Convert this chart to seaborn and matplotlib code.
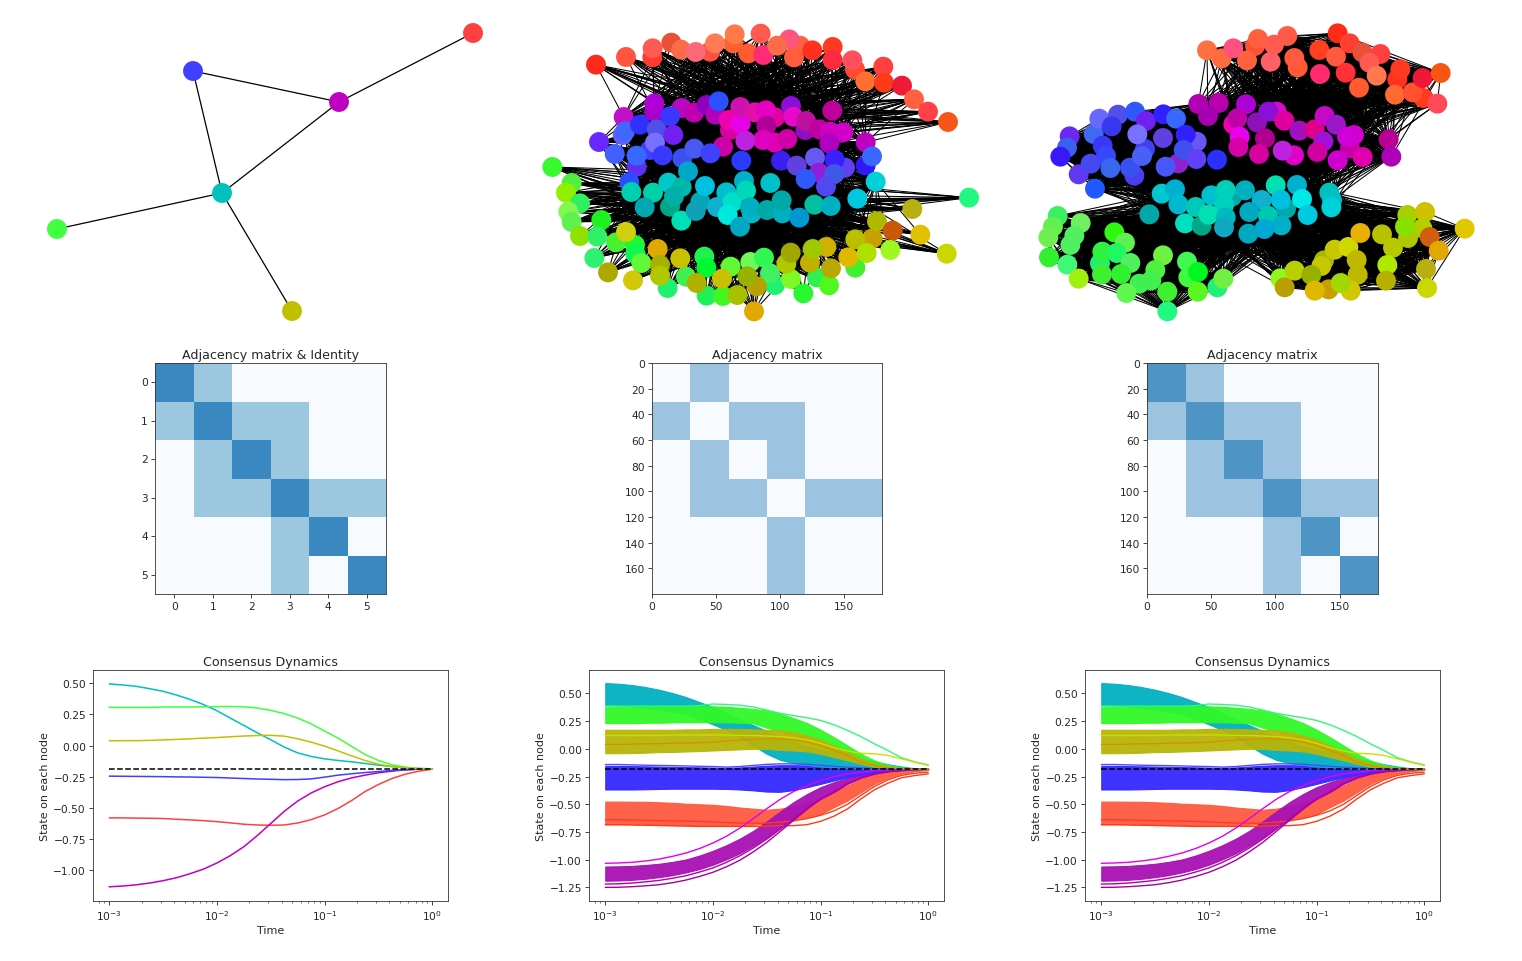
import numpy as np
import matplotlib
matplotlib.use("Agg")
import matplotlib.pyplot as plt
from matplotlib.collections import LineCollection
from matplotlib.colors import ListedColormap, LinearSegmentedColormap
import seaborn as sns

sns.set_style("ticks")
plt.rcParams['font.family'] = 'DejaVu Sans'

# Group links of the small graph: 0 red, 1 magenta, 2 blue, 3 cyan, 4 green, 5 olive
links = [(0, 1), (1, 2), (1, 3), (2, 3), (3, 4), (3, 5)]

# Small network, node positions
small_nodes = [(473, 33, "#ff4040"), (339, 102, "#c000c0"), (193, 71, "#4040ff"),
               (222, 193, "#00c0c0"), (57, 229, "#40ff40"), (292, 311, "#c0c000")]

# Middle network, one list per group: (x, y, colour)
mid_red = [(198,164,"#ff2a1e"),(288,141,"#ff5540"),(367,142,"#ff3a30"),(368,115,"#ff5a52"),(424,98,"#e85038"),
           (453,119,"#ff6a48"),(540,125,"#ff5040"),(497,126,"#ff6878"),(610,100,"#ff6030"),(555,100,"#ff7a55"),
           (614,73,"#ff7a48"),(655,130,"#ff5a30"),(692,71,"#ff5a50"),(700,135,"#ff2a78"),(810,107,"#ff6040"),
           (778,88,"#ff5580"),(742,107,"#ff6a48"),(792,142,"#ff5c40"),(847,121,"#ff3020"),(908,111,"#ff3a20"),
           (908,150,"#ff2a40"),(975,178,"#ff4a30"),(967,151,"#ff5060"),(1006,214,"#ff7030"),(1060,170,"#ff4040"),
           (1062,218,"#ff3a18"),(1116,227,"#ee1a38"),(1152,268,"#ff6040"),(1194,305,"#ff4048"),(1254,336,"#f85518")]
mid_magenta = [(281,321,"#c010c8"),(373,305,"#a800c8"),(373,280,"#b000d8"),(455,294,"#b808c0"),(492,308,"#c000b0"),
               (530,285,"#9000c0"),(556,314,"#b000b8"),(600,360,"#d800a0"),(596,330,"#f000b0"),(632,341,"#e800e8"),
               (631,291,"#d010b0"),(675,307,"#e010a8"),(735,322,"#e000a0"),(708,301,"#e800c0"),(709,347,"#b0009a"),
               (783,288,"#8a10d8"),(790,320,"#e808c8"),(826,360,"#9010c0"),(828,333,"#c010a0"),(868,358,"#c000a0"),
               (900,365,"#d000c0"),(940,367,"#d000c8"),(907,302,"#c0009a"),(898,400,"#b000c0"),(735,398,"#e000b0"),
               (772,387,"#d000a8"),(699,390,"#e000c0"),(646,392,"#c020e0"),(579,410,"#d000a8"),(1007,397,"#c000c0")]
mid_blue = [(207,396,"#6a28ff"),(278,375,"#6060ff"),(254,432,"#4060ff"),(285,364,"#4068ff"),(330,344,"#3030ff"),
            (380,358,"#5050e8"),(420,319,"#3838ff"),(430,375,"#7020f0"),(566,274,"#2a50ff"),(360,420,"#4040ff"),
            (375,398,"#7870ff"),(320,470,"#6030f0"),(320,437,"#3868ff"),(398,436,"#3838ff"),(457,445,"#3a50f0"),
            (493,416,"#4858f0"),(541,430,"#4040ff"),(634,452,"#2a3aff"),(753,452,"#3a20f0"),(800,467,"#6040e0"),
            (855,443,"#6858f0"),(945,473,"#6040f0"),(914,449,"#3a20ff"),(1007,466,"#3018f8"),(1026,439,"#3868ff"),
            (867,488,"#9020d8"),(913,492,"#4058e8"),(827,507,"#3058ff"),(888,530,"#5048f0"),(298,517,"#2850ff")]
mid_cyan = [(304,546,"#00d0b0"),(369,548,"#00d0a8"),(344,592,"#00a8b0"),(415,518,"#00c8c8"),(420,590,"#00a888"),
            (455,531,"#00b8a8"),(474,484,"#00a8c8"),(432,559,"#00b0a8"),(454,632,"#00e0b8"),(511,575,"#00a8b8"),
            (497,603,"#10a0b8"),(525,528,"#00c0e0"),(561,591,"#10b0d0"),(589,547,"#00c0d0"),(608,576,"#00e0c8"),
            (593,615,"#00e8e0"),(642,513,"#00b0c8"),(648,542,"#00d8b8"),(665,610,"#00b8c8"),(660,592,"#00b0c0"),
            (630,650,"#00a8c0"),(711,600,"#00a8a8"),(721,519,"#00c0c8"),(757,610,"#00b0c0"),(755,571,"#00a8a8"),
            (808,623,"#0098d0"),(853,584,"#00c0a0"),(902,588,"#00b0c0"),(982,566,"#00c8e0"),(1037,515,"#00d0d8")]
mid_green = [(67,471,"#38f830"),(125,519,"#50f040"),(108,548,"#90f000"),(150,580,"#30f060"),(115,605,"#80f850"),
             (125,636,"#60f050"),(150,678,"#90e000"),(214,630,"#20f020"),(202,680,"#30f068"),(258,697,"#48f030"),
             (315,705,"#20f830"),(316,731,"#10f850"),(193,744,"#30f070"),(334,759,"#60f838"),(413,834,"#20f070"),
             (468,800,"#40f050"),(523,740,"#20f050"),(530,857,"#20f058"),(529,773,"#00f830"),(579,858,"#40f820"),
             (602,770,"#60f830"),(661,756,"#70f858"),(702,743,"#30f850"),(735,825,"#20f070"),(720,790,"#40f060"),
             (783,807,"#80f828"),(820,850,"#28f830"),(861,802,"#30f050"),(897,826,"#50f820"),(976,773,"#40f030"),
             (1317,563,"#20f880")]
mid_olive = [(234,787,"#b0a800"),(309,811,"#d0c808"),(288,666,"#d0d010"),(383,717,"#e0a800"),(390,765,"#a8b000"),
             (390,797,"#b0c800"),(451,745,"#c8c000"),(500,819,"#b0b000"),(576,806,"#c8c000"),(622,855,"#a8c000"),
             (680,829,"#b8a000"),(652,799,"#98b000"),(672,904,"#e0a800"),(769,761,"#b0c800"),(782,728,"#a0a800"),
             (840,758,"#c0b000"),(889,711,"#d0b000"),(848,717,"#a0c800"),(903,775,"#b8a800"),(955,742,"#e0b800"),
             (1028,685,"#c8a000"),(976,688,"#b8c000"),(1010,729,"#b0e000"),(1041,634,"#b0b800"),(1088,662,"#c85808"),
             (1081,720,"#a0f820"),(1147,597,"#b8b010"),(1171,674,"#e0c000"),(1250,731,"#c8d800")]

# Right network, same layout of the lists
right_red = [(561,121,"#ff7040"),(705,108,"#ff5030"),(605,145,"#ff6a40"),(640,115,"#ff5080"),(714,87,"#ff6040"),
             (681,151,"#ff6040"),(752,155,"#ff6068"),(762,104,"#ff5a50"),(802,78,"#ff5a48"),(833,172,"#ff5a30"),
             (823,144,"#ff5a40"),(898,120,"#ff4020"),(948,140,"#ff5a40"),(953,70,"#ff2a18"),(989,100,"#ff4030"),
             (1027,127,"#e85038"),(1081,132,"#ff4040"),(1048,158,"#ff5a50"),(1070,197,"#ff7850"),(900,192,"#ff2a70"),
             (977,188,"#ff3038"),(1017,233,"#ff5a30"),(1132,208,"#ff3020"),(1141,178,"#ff3a20"),(1125,254,"#ff6a30"),
             (1210,264,"#ff3a20"),(1178,247,"#ff5030"),(1208,204,"#f01838"),(1262,189,"#f85510"),(1252,281,"#ff4858")]
right_magenta = [(535,282,"#b000b0"),(596,279,"#b800b0"),(564,318,"#a800b0"),(678,283,"#b000d8"),(640,343,"#f000b0"),
                 (652,325,"#c000a8"),(711,337,"#9010b8"),(770,305,"#d808c8"),(745,305,"#8a10d8"),(793,332,"#e000a0"),
                 (659,380,"#e800f0"),(735,385,"#b00090"),(655,411,"#d800a8"),(717,432,"#d800a0"),(822,436,"#e000c8"),
                 (788,422,"#c020e0"),(838,362,"#a010c0"),(884,358,"#e00088"),(914,318,"#c808c8"),(948,344,"#9818c8"),
                 (990,415,"#c800a8"),(1002,375,"#d000d0"),(981,380,"#d000d8"),(910,394,"#a010d8"),(892,426,"#d000a0"),
                 (1028,441,"#e000b0"),(953,451,"#d000d0"),(1106,388,"#b80098"),(1114,440,"#b000b8"),(475,460,"#9020d0")]
right_blue = [(149,379,"#6a28f0"),(141,413,"#3a60f0"),(121,440,"#3818f8"),(176,493,"#6038f0"),(212,461,"#4848f0"),
              (221,372,"#4068f0"),(238,326,"#6868ff"),(294,314,"#5050e8"),(345,305,"#3058ff"),(275,349,"#3838f0"),
              (248,407,"#3838f8"),(258,438,"#3848f8"),(271,474,"#3868f0"),(343,497,"#4840f0"),(330,473,"#3850f0"),
              (375,417,"#4040f0"),(366,438,"#4860f8"),(378,333,"#7020f0"),(352,373,"#7870ff"),(430,313,"#3020ff"),
              (468,326,"#3868ff"),(429,384,"#6040e0"),(530,395,"#6858f0"),(497,374,"#3020ff"),(491,420,"#4050f0"),
              (529,447,"#6040f8"),(437,470,"#4858f8"),(591,449,"#2a30ff"),(225,536,"#2058ff")]
right_cyan = [(425,551,"#00c8d0"),(465,538,"#00b0d0"),(475,583,"#00b8d0"),(527,591,"#00c8b8"),(495,640,"#00e0c0"),
              (388,613,"#00a8a8"),(574,556,"#00c0d0"),(636,560,"#00a8a8"),(617,540,"#00d0b8"),(612,585,"#00d0c0"),
              (545,647,"#00a888"),(566,614,"#00e0b0"),(617,622,"#00b8c0"),(612,652,"#10a8c0"),(675,541,"#00b0c0"),
              (767,526,"#00e0b0"),(831,525,"#00b0d0"),(725,570,"#10b0d0"),(688,606,"#00a8c0"),(798,596,"#00a8a8"),
              (744,617,"#00c8b0"),(782,569,"#00c0e0"),(846,567,"#00e8e8"),(863,615,"#00c8e0"),(784,646,"#00b0c8"),
              (733,657,"#00a8d8"),(685,671,"#00a8c0"),(928,548,"#00c0c0"),(936,570,"#00c0c8"),(934,592,"#00d0d8")]
right_green = [(113,618,"#38f060"),(182,639,"#70f060"),(99,650,"#60f050"),(85,682,"#70f050"),(163,677,"#50f060"),
               (151,705,"#50f060"),(87,742,"#30f030"),(142,764,"#40f878"),(176,806,"#a0f010"),(283,667,"#30f810"),
               (315,698,"#60f050"),(240,760,"#20f070"),(247,725,"#30f040"),(290,729,"#20f860"),(331,759,"#50f060"),
               (246,793,"#40f030"),(303,792,"#30f030"),(429,736,"#70f040"),(358,821,"#40f050"),(406,780,"#50f040"),
               (394,811,"#40f050"),(319,849,"#60f850"),(442,845,"#40f030"),(501,755,"#40f850"),(505,802,"#40f840"),
               (534,786,"#00f820"),(533,845,"#58f820"),(592,832,"#20f078"),(610,806,"#70f040"),(442,904,"#20f880")]
right_olive = [(781,805,"#90f820"),(794,832,"#b8a000"),(824,782,"#b8d000"),(912,751,"#a8b800"),(904,768,"#c8c800"),
               (874,795,"#98b000"),(944,719,"#c8c800"),(985,711,"#d0d800"),(1010,750,"#c0b800"),(1021,669,"#e8b000"),
               (1086,673,"#b8c000"),(1119,713,"#b8c800"),(1013,794,"#c0b800"),(926,838,"#c8a000"),(992,842,"#d0c800"),
               (962,819,"#a0d800"),(884,842,"#e0b800"),(1102,765,"#b0e800"),(1098,812,"#b8b000"),(1162,615,"#a8d000"),
               (1215,606,"#d0c000"),(1207,655,"#b0d000"),(1164,684,"#b0c800"),(1155,650,"#88e000"),(1229,681,"#d06010"),
               (1256,722,"#e0a800"),(1334,656,"#e0c800"),(1218,777,"#b8b010"),(1221,834,"#c8d800")]

mid_groups = [mid_red, mid_magenta, mid_blue, mid_cyan, mid_green, mid_olive]
right_groups = [right_red, right_magenta, right_blue, right_cyan, right_green, right_olive]

# Block fill of the matrices: share of cells that are set, estimated per block
# (the single dots of the picture can not be read, so a block gets one tint)
block_between = 0.42
block_within = 0.78

# Time samples for the consensus curves, eight per decade
times = [.001, .00133, .00178, .00237, .00316, .00422, .00562, .0075, .01, .0133, .0178, .0237, .0316,
         .0422, .0562, .075, .1, .133, .178, .237, .316, .422, .562, .75, 1.0]
consensus = -0.186

# Small graph, one curve per node
small_red = [-.58,-.58,-.582,-.583,-.585,-.591,-.596,-.602,-.61,-.62,-.631,-.637,-.639,-.637,-.621,-.594,-.556,-.505,-.441,-.369,-.312,-.264,-.229,-.205,-.189]
small_magenta = [-1.133,-1.127,-1.117,-1.103,-1.084,-1.06,-1.028,-.991,-.942,-.883,-.811,-.722,-.625,-.527,-.445,-.38,-.33,-.29,-.259,-.237,-.218,-.205,-.194,-.189,-.186]
small_blue = [-.245,-.246,-.247,-.248,-.249,-.251,-.252,-.254,-.256,-.26,-.264,-.268,-.27,-.273,-.272,-.267,-.253,-.237,-.226,-.216,-.208,-.199,-.194,-.189,-.186]
small_cyan = [.495,.487,.476,.457,.436,.406,.371,.33,.28,.221,.162,.103,.047,-.012,-.058,-.087,-.106,-.119,-.13,-.143,-.157,-.168,-.178,-.184,-.186]
small_green = [.307,.307,.307,.307,.31,.31,.31,.312,.313,.314,.312,.302,.283,.257,.221,.175,.117,.061,-.006,-.071,-.119,-.154,-.172,-.184,-.186]
small_olive = [.039,.04,.04,.042,.046,.05,.055,.06,.065,.071,.077,.081,.083,.076,.055,.028,-.004,-.042,-.082,-.119,-.149,-.168,-.178,-.184,-.186]
small_curves = [small_red, small_magenta, small_blue, small_cyan, small_green, small_olive]
small_colors = ["#ff4040", "#c000c0", "#4040ff", "#00c0c0", "#40ff40", "#c0c000"]

# Large graphs, bundle edges per group
red_top = [-.476,-.476,-.477,-.478,-.482,-.487,-.495,-.5,-.505,-.515,-.53,-.54,-.55,-.54,-.52,-.49,-.452,-.39,-.331,-.271,-.232,-.208,-.193,-.187,-.184]
red_low = [-.68,-.68,-.68,-.682,-.685,-.688,-.69,-.69,-.69,-.69,-.69,-.685,-.675,-.655,-.64,-.617,-.587,-.527,-.467,-.392,-.316,-.262,-.226,-.202,-.19]
magenta_top = [-1.062,-1.06,-1.056,-1.048,-1.037,-1.02,-.998,-.963,-.92,-.87,-.81,-.74,-.655,-.565,-.48,-.407,-.346,-.301,-.262,-.235,-.214,-.199,-.19,-.187,-.184]
magenta_low = [-1.19,-1.188,-1.182,-1.172,-1.158,-1.14,-1.115,-1.085,-1.046,-.998,-.942,-.875,-.8,-.71,-.62,-.53,-.452,-.39,-.316,-.262,-.226,-.205,-.193,-.187,-.184]
blue_top = [-.155,-.155,-.156,-.158,-.16,-.162,-.165,-.167,-.17,-.172,-.168,-.16,-.152,-.148,-.148,-.15,-.155,-.16,-.168,-.173,-.178,-.181,-.184,-.184,-.184]
blue_low = [-.367,-.367,-.367,-.365,-.362,-.36,-.36,-.36,-.36,-.362,-.367,-.375,-.386,-.388,-.372,-.346,-.316,-.286,-.256,-.232,-.214,-.202,-.193,-.187,-.184]
cyan_top = [.593,.587,.575,.557,.533,.503,.467,.422,.377,.322,.268,.214,.16,.105,.06,.021,-.01,-.036,-.06,-.09,-.115,-.139,-.16,-.175,-.184]
cyan_low = [.392,.392,.383,.37,.352,.334,.31,.271,.22,.172,.105,.03,-.045,-.1,-.13,-.145,-.16,-.166,-.172,-.178,-.181,-.184,-.184,-.184,-.184]
green_top = [.376,.376,.376,.378,.38,.38,.382,.383,.383,.38,.37,.36,.346,.316,.277,.232,.172,.105,.03,-.045,-.105,-.145,-.169,-.181,-.184]
green_low = [.232,.232,.232,.235,.235,.238,.24,.24,.24,.24,.235,.23,.19,.16,.12,.075,.03,-.03,-.09,-.13,-.166,-.175,-.184,-.184,-.184]
olive_top = [.172,.172,.172,.172,.172,.172,.175,.175,.18,.18,.18,.175,.172,.166,.15,.12,.08,.03,-.03,-.09,-.136,-.16,-.175,-.18,-.184]
olive_low = [-.04,-.04,-.038,-.035,-.03,-.028,-.024,-.02,-.015,-.01,-.005,0,0,-.01,-.015,-.024,-.045,-.075,-.105,-.136,-.157,-.172,-.181,-.184,-.184]
band_tops = [red_top, magenta_top, blue_top, cyan_top, green_top, olive_top]
band_lows = [red_low, magenta_low, blue_low, cyan_low, green_low, olive_low]
band_colors = ["#ff5a40", "#a810b4", "#3428ff", "#00b0c0", "#30f828", "#b8b408"]

# Lines that stand clear of their bundle, or show inside it
stray_red = [-.685,-.685,-.687,-.69,-.692,-.695,-.697,-.7,-.7,-.7,-.7,-.7,-.698,-.693,-.693,-.684,-.654,-.608,-.542,-.452,-.37,-.31,-.262,-.241,-.226]
stray_red_b = [-.64,-.64,-.642,-.645,-.648,-.65,-.652,-.655,-.66,-.665,-.67,-.67,-.67,-.66,-.65,-.63,-.6,-.56,-.5,-.42,-.34,-.28,-.24,-.22,-.21]
stray_magenta = [-1.033,-1.03,-1.024,-1.012,-.995,-.97,-.94,-.9,-.85,-.79,-.715,-.63,-.54,-.455,-.385,-.331,-.286,-.25,-.226,-.211,-.196,-.19,-.187,-.184,-.184]
low_magenta = [-1.25,-1.249,-1.244,-1.236,-1.226,-1.208,-1.184,-1.152,-1.114,-1.065,-1.005,-.93,-.845,-.745,-.645,-.545,-.452,-.39,-.316,-.262,-.226,-.205,-.193,-.187,-.184]
low_magenta_b = [-1.22,-1.218,-1.211,-1.2,-1.187,-1.168,-1.145,-1.112,-1.075,-1.025,-.965,-.895,-.815,-.725,-.635,-.54,-.452,-.39,-.316,-.262,-.226,-.205,-.193,-.187,-.184]
stray_blue = [-.142,-.142,-.145,-.148,-.15,-.152,-.155,-.158,-.16,-.165,-.16,-.15,-.14,-.136,-.136,-.14,-.148,-.157,-.166,-.172,-.178,-.181,-.184,-.184,-.184]
stray_green = [.385,.385,.385,.385,.385,.385,.385,.39,.404,.4,.394,.378,.35,.32,.3,.28,.256,.217,.166,.11,.045,-.015,-.08,-.118,-.145]
stray_olive = [.12,.12,.12,.12,.12,.125,.125,.125,.125,.125,.12,.12,.115,.11,.1,.08,.05,.01,-.02,-.04,-.045,-.06,-.09,-.12,-.15]
orange_olive = [.04,.04,.042,.045,.047,.05,.052,.055,.06,.07,.08,.085,.09,.09,.08,.06,.03,-.015,-.06,-.12,-.15,-.17,-.18,-.184,-.184]
stray_lines = [(stray_red, "#ff3a10"), (stray_red_b, "#ff3a20"), (stray_magenta, "#e000f0"), (low_magenta, "#a8009c"),
               (low_magenta_b, "#b000a8"), (stray_blue, "#5048ff"), (stray_green, "#30f880"), (stray_olive, "#c8e000"),
               (orange_olive, "#d89000")]

W, H = 1522, 962
fig = plt.figure(figsize=(W / 100, H / 100), dpi=100)


def axes_px(left, top, right, bottom):
    return fig.add_axes([left / W, 1 - bottom / H, (right - left) / W, (bottom - top) / H])


def draw_network(ax, groups, with_inner):
    points = [n for g in groups for n in g]
    xs = [n[0] for n in points]
    ys = [n[1] for n in points]
    cols = [n[2] for n in points]
    # single edges can not be read, so linked groups get every second node pair
    segs = []
    for a, b in links:
        for i, p in enumerate(groups[a]):
            for j, q in enumerate(groups[b]):
                if (i + j) % 2 == 0:
                    segs.append([p[:2], q[:2]])
    if with_inner:
        for g in groups:
            for i, p in enumerate(g):
                for q in g[i + 1:]:
                    segs.append([p[:2], q[:2]])
    ax.add_collection(LineCollection(segs, colors="k", linewidths=0.75, zorder=1))
    sns.scatterplot(x=xs, y=ys, hue=cols, palette={c: c for c in cols}, s=205, linewidth=0,
                    legend=False, ax=ax, zorder=2)
    ax.set_xlim(0, 1410)
    ax.set_ylim(960, 0)
    ax.axis("off")


def small_ticks(ax):
    ax.tick_params(axis="both", which="major", labelsize=7.7, length=2.6, width=0.6, pad=2.5)
    ax.tick_params(axis="both", which="minor", length=1.5, width=0.45)
    for s in ax.spines.values():
        s.set_visible(True)
        s.set_linewidth(0.6)
        s.set_color("#333333")


def draw_block_matrix(ax, blocks):
    cells = np.kron(blocks, np.ones((30, 30)))
    cmap = LinearSegmentedColormap.from_list("spy", ["#f7fbff", "#1f77b4"])
    sns.heatmap(cells, cmap=cmap, vmin=0, vmax=1, cbar=False, ax=ax, xticklabels=False, yticklabels=False)
    ax.set_xticks([0, 50, 100, 150], labels=["0", "50", "100", "150"])
    ax.set_yticks(range(0, 180, 20), labels=[str(v) for v in range(0, 180, 20)], rotation=0)
    ax.set_title("Adjacency matrix", fontsize=9.1, pad=3.5)
    small_ticks(ax)


def finish_dynamics(ax, low, high):
    ax.set_xscale("log")
    ax.set_xlim(10 ** -3.151, 10 ** 0.146)
    ax.set_ylim(low, high)
    ax.set_title("Consensus Dynamics", fontsize=9.1, pad=3.5)
    ax.set_xlabel("Time", fontsize=8, labelpad=2)
    ax.set_ylabel("State on each node", fontsize=8, labelpad=2)
    small_ticks(ax)


def draw_bundles(ax):
    for top, low, col in zip(band_tops, band_lows, band_colors):
        ax.fill_between(times, low, top, color=col, linewidth=0.8, alpha=0.95)
    for line, col in stray_lines:
        sns.lineplot(x=times, y=line, color=col, linewidth=1.0, estimator=None, ax=ax)
    sns.lineplot(x=times, y=[consensus] * len(times), color="k", linestyle="--", linewidth=1.1,
                 estimator=None, ax=ax)
    finish_dynamics(ax, -1.373, 0.711)


# top row
ax = axes_px(0, 1, 510, 331)
seg_small = [[small_nodes[a][:2], small_nodes[b][:2]] for a, b in links]
ax.add_collection(LineCollection(seg_small, colors="k", linewidths=0.9, zorder=1))
sns.scatterplot(x=[n[0] for n in small_nodes], y=[n[1] for n in small_nodes], hue=[n[2] for n in small_nodes],
                palette={n[2]: n[2] for n in small_nodes}, s=205, linewidth=0, legend=False, ax=ax, zorder=2)
ax.set_xlim(0, 510)
ax.set_ylim(330, 0)
ax.axis("off")

draw_network(axes_px(530, 11, 1000, 331), mid_groups, False)
draw_network(axes_px(1020, 11, 1490, 331), right_groups, True)

# middle row
small_adj = np.eye(6) * 2
for a, b in links:
    small_adj[a, b] = small_adj[b, a] = 1
ax = axes_px(155, 364, 386, 595)
sns.heatmap(small_adj, cmap=ListedColormap(["#f7fbff", "#9bc7df", "#3a88c2"]), vmin=0, vmax=2, cbar=False, ax=ax,
            xticklabels=range(6), yticklabels=range(6))
ax.tick_params(axis="y", labelrotation=0)
ax.set_title("Adjacency matrix & Identity", fontsize=9.1, pad=3.5)
small_ticks(ax)

between = np.zeros((6, 6))
for a, b in links:
    between[a, b] = between[b, a] = block_between
draw_block_matrix(axes_px(652, 364, 882, 595), between)
draw_block_matrix(axes_px(1147, 364, 1378, 595), between + np.eye(6) * block_within)

# bottom row
ax = axes_px(93, 671, 448, 902)
for curve, col in zip(small_curves, small_colors):
    sns.lineplot(x=times, y=curve, color=col, linewidth=1.1, estimator=None, ax=ax)
sns.lineplot(x=times, y=[consensus] * len(times), color="k", linestyle="--", linewidth=1.1, estimator=None, ax=ax)
finish_dynamics(ax, -1.247, 0.607)

draw_bundles(axes_px(589, 671, 944, 902))
draw_bundles(axes_px(1085, 671, 1440, 902))

fig.savefig("out.png", dpi=100)
